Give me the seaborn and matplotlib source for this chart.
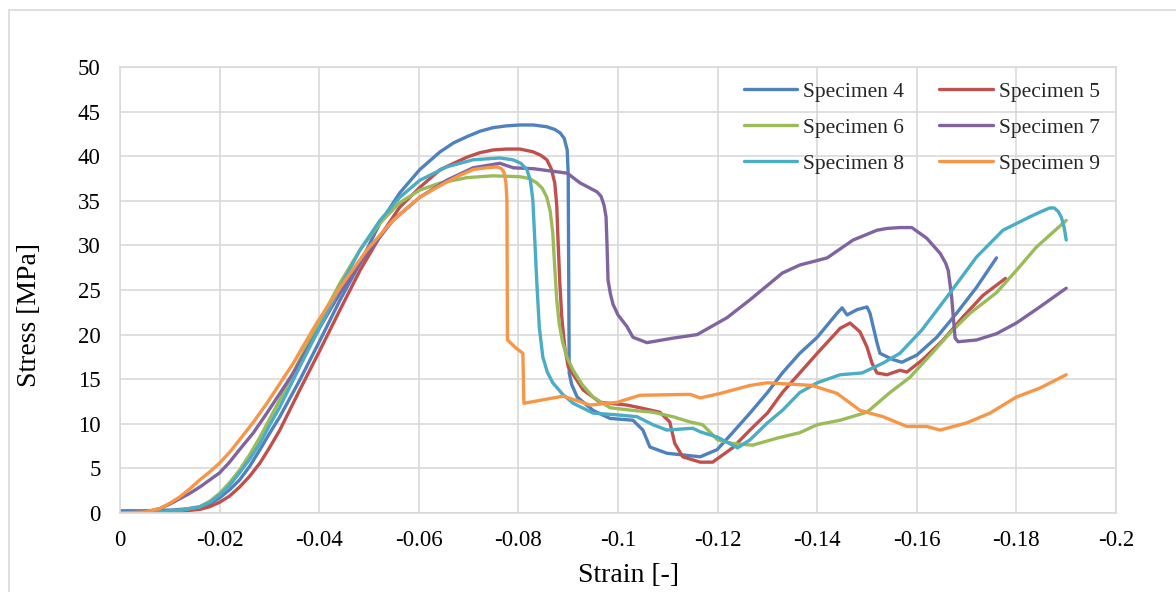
import numpy as np
import pandas as pd
import matplotlib
matplotlib.use("Agg")
import matplotlib.pyplot as plt
from matplotlib.patches import Rectangle
import seaborn as sns

# values (strain [-], stress [MPa])
s4_strain = [0, -0.006, -0.011, -0.014, -0.016, -0.018, -0.020, -0.022, -0.024, -0.026, -0.0281,
             -0.030, -0.0321, -0.0361, -0.0402, -0.0442, -0.0482, -0.0522, -0.0562, -0.0602, -0.0643,
             -0.067, -0.0697, -0.0723, -0.0749, -0.0776, -0.0803, -0.0830, -0.0857, -0.0873, -0.0884,
             -0.0892, -0.0898, -0.0900, -0.0902, -0.0907, -0.0918, -0.0950, -0.0984, -0.1030, -0.1050,
             -0.1064, -0.1098, -0.1165, -0.1199, -0.1230, -0.1265, -0.1300, -0.1330, -0.1365, -0.1400,
             -0.1440, -0.1450, -0.1460, -0.1480, -0.1500, -0.1506, -0.1520, -0.1526, -0.1552, -0.1570,
             -0.1600, -0.1640, -0.1680, -0.1720, -0.1760]
s4_stress = [0.25, 0.25, 0.35, 0.5, 0.6, 1.0, 1.7, 2.6, 3.7, 5.2, 7.1,
             8.9, 10.8, 14.9, 19.4, 23.9, 28.0, 32.5, 35.9, 38.5, 40.5,
             41.5, 42.2, 42.8, 43.2, 43.4, 43.5, 43.5, 43.3, 43.0, 42.6,
             42.0, 40.7, 38.0, 15.7, 14.4, 13.0, 11.5, 10.6, 10.4, 9.3,
             7.4, 6.7, 6.3, 7.1, 9.0, 11.2, 13.5, 15.7, 17.9, 19.7,
             22.4, 23.0, 22.2, 22.8, 23.1, 22.4, 19.1, 17.9, 17.2, 16.9,
             17.7, 19.7, 22.4, 25.3, 28.6]

s5_strain = [0, -0.008, -0.012, -0.016, -0.018, -0.020, -0.022, -0.024, -0.026, -0.0281, -0.030,
             -0.0321, -0.0361, -0.0402, -0.0442, -0.0482, -0.0522, -0.0562, -0.0602, -0.0643, -0.0697,
             -0.0723, -0.0749, -0.0776, -0.0803, -0.0829, -0.0845, -0.0857, -0.0866, -0.0873, -0.0877,
             -0.0879, -0.0883, -0.0887, -0.0893, -0.0900, -0.0930, -0.0964, -0.1018, -0.1044, -0.1084,
             -0.1104, -0.1114, -0.1130, -0.1165, -0.1190, -0.1230, -0.1265, -0.1300, -0.1330, -0.1365,
             -0.1400, -0.1446, -0.1466, -0.1486, -0.1500, -0.1510, -0.1520, -0.1540, -0.1566, -0.1580,
             -0.1612, -0.1653, -0.1693, -0.1733, -0.1778]
s5_stress = [0, 0.1, 0.2, 0.4, 0.7, 1.2, 1.9, 2.9, 4.1, 5.6, 7.3,
             9.3, 13.8, 18.3, 22.8, 27.2, 31.0, 34.3, 36.5, 38.5, 39.9,
             40.4, 40.7, 40.8, 40.8, 40.5, 40.1, 39.6, 38.6, 37.0, 34.5,
             31.4, 26.0, 22.0, 18.6, 16.4, 13.8, 12.4, 12.1, 11.8, 11.3,
             10.2, 7.8, 6.3, 5.7, 5.7, 7.3, 9.3, 11.2, 13.5, 15.7,
             17.9, 20.7, 21.3, 20.3, 18.6, 16.8, 15.7, 15.5, 16.0, 15.8,
             17.2, 19.4, 22.0, 24.4, 26.3]

s6_strain = [0, -0.008, -0.012, -0.016, -0.018, -0.020, -0.022, -0.024, -0.026, -0.0281, -0.030,
             -0.0321, -0.0361, -0.0402, -0.0442, -0.0482, -0.0522, -0.0562, -0.0602, -0.0643, -0.0697,
             -0.0749, -0.0803, -0.0822, -0.0837, -0.0848, -0.0857, -0.0864, -0.0869, -0.0873, -0.0877,
             -0.0882, -0.0889, -0.0898, -0.0910, -0.0928, -0.0950, -0.0984, -0.1030, -0.1070, -0.1110,
             -0.1145, -0.1170, -0.1200, -0.1230, -0.1270, -0.1320, -0.1365, -0.1400, -0.1446, -0.1500,
             -0.1546, -0.1586, -0.1627, -0.1667, -0.1707, -0.1760, -0.1800, -0.1840, -0.1900]
s6_stress = [0, 0.1, 0.3, 0.7, 1.3, 2.2, 3.4, 4.8, 6.5, 8.5, 10.5,
             12.7, 17.2, 21.6, 25.8, 29.5, 32.5, 34.8, 36.2, 37.0, 37.6,
             37.8, 37.7, 37.5, 37.0, 36.4, 35.4, 33.8, 31.4, 27.5, 23.9,
             21.2, 19.1, 17.4, 16.0, 14.4, 13.0, 11.8, 11.5, 11.3, 10.8,
             10.2, 9.9, 8.2, 7.8, 7.6, 8.4, 9.0, 9.9, 10.4, 11.3,
             13.5, 15.2, 17.7, 20.2, 22.4, 24.7, 27.2, 29.8, 32.8]

s7_strain = [0, -0.005, -0.008, -0.010, -0.012, -0.014, -0.016, -0.018, -0.020, -0.022, -0.024,
             -0.0268, -0.0295, -0.0348, -0.0395, -0.0442, -0.0496, -0.0548, -0.0602, -0.0656, -0.0709,
             -0.0763, -0.0790, -0.0830, -0.0898, -0.0924, -0.0958, -0.0966, -0.0972, -0.0976, -0.0978,
             -0.0980, -0.0985, -0.0990, -0.1000, -0.1018, -0.1030, -0.1058, -0.1110, -0.1159, -0.1219,
             -0.1265, -0.1330, -0.1365, -0.1420, -0.1472, -0.1520, -0.1540, -0.1566, -0.1590, -0.1620,
             -0.1647, -0.1658, -0.1663, -0.1667, -0.1670, -0.1674, -0.1677, -0.1683, -0.1720, -0.1760,
             -0.1800, -0.1847, -0.1900]
s7_stress = [0, 0.1, 0.5, 1.0, 1.6, 2.2, 2.9, 3.7, 4.5, 5.7, 7.1,
             9.0, 11.2, 15.7, 20.2, 24.7, 29.1, 32.8, 35.4, 37.3, 38.7,
             39.2, 38.7, 38.6, 38.1, 37.0, 36.0, 35.5, 34.5, 33.2, 30.0,
             26.1, 24.5, 23.4, 22.2, 20.9, 19.7, 19.1, 19.6, 20.0, 21.9,
             23.9, 26.9, 27.8, 28.6, 30.6, 31.7, 31.9, 32.0, 32.0, 30.8,
             29.1, 28.0, 27.2, 25.5, 24.2, 21.5, 19.6, 19.2, 19.4, 20.1,
             21.3, 23.1, 25.2]

s8_strain = [0, -0.008, -0.012, -0.016, -0.018, -0.020, -0.022, -0.024, -0.026, -0.0281, -0.030,
             -0.0321, -0.0361, -0.0402, -0.0442, -0.0482, -0.0522, -0.0562, -0.0602, -0.0656, -0.0709,
             -0.0763, -0.0789, -0.0805, -0.0817, -0.0824, -0.0829, -0.0833, -0.0837, -0.0842, -0.0849,
             -0.0858, -0.0869, -0.0889, -0.0910, -0.0950, -0.0998, -0.1038, -0.1070, -0.1098, -0.1150,
             -0.1165, -0.1200, -0.1240, -0.1265, -0.1300, -0.1330, -0.1365, -0.1400, -0.1446, -0.1490,
             -0.1532, -0.1566, -0.1610, -0.1667, -0.1720, -0.1773, -0.1827, -0.1850, -0.1867, -0.1876,
             -0.1884, -0.1890, -0.1896, -0.1900]
s8_stress = [0, 0.1, 0.3, 0.7, 1.2, 2.0, 3.1, 4.5, 6.0, 7.8, 9.8,
             11.9, 16.4, 20.9, 25.3, 29.5, 32.8, 35.4, 37.3, 38.8, 39.6,
             39.8, 39.6, 39.2, 38.5, 37.3, 35.1, 30.5, 25.8, 20.8, 17.5,
             15.8, 14.6, 13.3, 12.3, 11.2, 11.0, 10.8, 9.9, 9.3, 9.5,
             9.1, 8.5, 7.3, 8.2, 10.1, 11.5, 13.5, 14.6, 15.5, 15.7,
             16.8, 17.9, 20.5, 24.7, 28.7, 31.7, 33.2, 33.8, 34.2, 34.2,
             33.8, 33.2, 32.0, 30.6]

s9_strain = [0, -0.005, -0.008, -0.010, -0.012, -0.014, -0.016, -0.018, -0.020, -0.022, -0.024,
             -0.0268, -0.0295, -0.0348, -0.0395, -0.0442, -0.0496, -0.0548, -0.0602, -0.0630, -0.0656,
             -0.0680, -0.0709, -0.0735, -0.0757, -0.0766, -0.0771, -0.0775, -0.0777, -0.0778, -0.0795,
             -0.0809, -0.0811, -0.0890, -0.0944, -0.0998, -0.1044, -0.1145, -0.1165, -0.1205, -0.1265,
             -0.1300, -0.1390, -0.1440, -0.1486, -0.1532, -0.1580, -0.1620, -0.1647, -0.1700, -0.1747,
             -0.1800, -0.1847, -0.1900]
s9_stress = [0, 0.1, 0.5, 1.1, 1.8, 2.7, 3.7, 4.6, 5.6, 6.8, 8.2,
             10.2, 12.3, 16.8, 21.3, 25.3, 29.5, 32.8, 35.4, 36.3, 37.1,
             37.8, 38.5, 38.7, 38.8, 38.6, 38.2, 37.0, 35.0, 19.4, 18.5,
             17.9, 12.3, 13.1, 12.1, 12.4, 13.2, 13.3, 12.9, 13.4, 14.3,
             14.6, 14.3, 13.4, 11.5, 10.8, 9.7, 9.7, 9.3, 10.1, 11.2,
             13.0, 14.0, 15.5]

names = ["Specimen 4", "Specimen 5", "Specimen 6", "Specimen 7", "Specimen 8", "Specimen 9"]
colors = ["#4F81BD", "#C0504D", "#9BBB59", "#8064A2", "#4BACC6", "#F79646"]
strains = [s4_strain, s5_strain, s6_strain, s7_strain, s8_strain, s9_strain]
stresses = [s4_stress, s5_stress, s6_stress, s7_stress, s8_stress, s9_stress]

df = pd.concat(
    [pd.DataFrame({"strain": x, "stress": y, "specimen": n}) for n, x, y in zip(names, strains, stresses)],
    ignore_index=True,
)

sns.set_theme(style="whitegrid")
plt.rcParams["font.family"] = ["Liberation Serif", "DejaVu Serif"]

fig = plt.figure(figsize=(11.76, 5.92), dpi=100)
ax = fig.add_axes([120 / 1176, 1 - 513 / 592, 996 / 1176, 446 / 592])

# outer chart frame (only top and left edges fall inside the image)
fig.patches.append(Rectangle((9 / 1176, -0.5), 1.5, 1.5 - 10 / 592, transform=fig.transFigure,
                             fill=False, edgecolor="#D9D9D9", linewidth=1.2))

sns.lineplot(data=df, x="strain", y="stress", hue="specimen", palette=colors, hue_order=names,
             sort=False, estimator=None, linewidth=2.4, legend=False, ax=ax)

ax.set_xlim(0, -0.2)
ax.set_ylim(0, 50)
xt = np.arange(0, -0.201, -0.02)
ax.set_xticks(xt)
ax.set_xticklabels([f"{v:g}" if abs(v) > 1e-9 else "0" for v in xt])
ax.set_yticks(np.arange(0, 51, 5))

ax.grid(True, color="#D9D9D9", linewidth=1.2)
for sp in ax.spines.values():
    sp.set_color("#D9D9D9")
    sp.set_linewidth(1.2)
ax.tick_params(axis="both", length=0, labelsize=16.5, colors="black")
ax.tick_params(axis="y", pad=14)
ax.tick_params(axis="x", pad=12)

ax.set_xlabel("Strain [-]", fontsize=20, color="black")
ax.set_ylabel("Stress [MPa]", fontsize=20, color="black")
ax.xaxis.set_label_coords(0.511, -0.112)
ax.yaxis.set_label_coords(-0.078, 0.444)

lines = ax.get_lines()
order = [0, 2, 4, 1, 3, 5]
ax.legend([lines[i] for i in order], [names[i] for i in order], ncol=2, loc="upper right",
          bbox_to_anchor=(1.003, 1.01), frameon=False, fontsize=15.5, handlelength=2.5,
          handletextpad=0.25, columnspacing=1.65, labelspacing=0.73)

fig.savefig("out.png", dpi=100)
